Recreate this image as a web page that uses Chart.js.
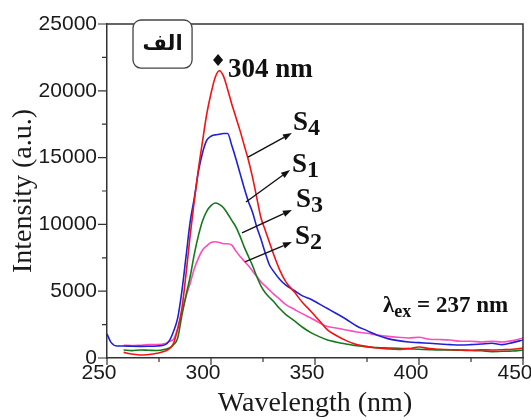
<!DOCTYPE html>
<html lang="en">
<head>
  <meta charset="UTF-8">
  <title>Emission spectra S1-S4</title>
  <script src="https://cdn.jsdelivr.net/npm/chart.js"></script>
  <style>
    html, body { margin: 0; padding: 0; background: #ffffff; }
    .chart-box { width: 531px; height: 420px; }
  </style>
</head>
<body>
  <div class="chart-box"><canvas id="spectraChart"></canvas></div>
  <script>
    // Wavelength grid (nm) and intensities (a.u.)
    const wavelength = [250, 252, 255, 258, 262, 266, 270, 274, 278, 280, 282, 284, 286, 288, 290, 292, 294, 296, 298, 300,
      302, 304, 306, 308, 310, 312, 314, 316, 318, 320, 322, 324, 326, 328, 330, 333, 336, 340, 344, 348,
      352, 356, 360, 365, 370, 375, 380, 385, 390, 395, 400, 405, 410, 415, 420, 425, 430, 435, 440, 445, 450];

    const s4 = [null, null, null, 420, 300, 220, 260, 350, 520, 700, 1100, 2200, 3700, 6300, 9200, 11800, 14200, 16300, 18300, 19800,
      21000, 21500, 21100, 20100, 19000, 18000, 17000, 15900, 14800, 13500, 12000, 10500, 9600, 8700, 7800, 6600, 5700, 4950, 4150, 3500,
      2800, 2100, 1700, 1300, 1000, 850, 750, 680, 640, 700, 820, 700, 650, 620, 600, 580, 620, 600, 620, 650, 750];

    const s1 = [1800, 1150, 900, 900, 880, 870, 880, 900, 1000, 1300, 2000, 3000, 5000, 7600, 10200, 12000, 14000, 15400, 16300, 16600,
      16700, 16750, 16800, 16800, 15900, 14900, 13800, 12700, 11700, 10900, 9800, 8900, 7900, 7000, 6500, 5900, 5450, 5050, 4650, 4400,
      4050, 3700, 3350, 2900, 2400, 2050, 1700, 1450, 1300, 1200, 1150, 1100, 1050, 1000, 970, 1000, 1050, 1100, 1000, 1150, 1350];

    const s3 = [null, null, null, 600, 550, 600, 580, 560, 650, 750, 1000, 1500, 3200, 4700, 6100, 7800, 9200, 10300, 11000, 11400,
      11600, 11500, 11250, 10800, 10300, 9800, 9100, 8300, 7600, 6900, 6100, 5400, 4900, 4550, 4250, 3700, 3250, 2800, 2300, 1900,
      1600, 1350, 1200, 1050, 920, 850, 780, 750, 720, 700, 650, 620, 600, 600, 580, 560, 540, 480, 500, 520, 600];

    const s2 = [null, null, null, 950, 930, 960, 1000, 1000, 1080, 1250, 1400, 2200, 3400, 4600, 5600, 6700, 7500, 8100, 8400, 8650,
      8700, 8650, 8550, 8550, 8450, 8000, 7600, 7250, 6900, 6500, 6100, 5700, 5400, 5100, 4800, 4400, 4000, 3650, 3300, 3000,
      2650, 2350, 2250, 2100, 1950, 1850, 1720, 1620, 1550, 1500, 1550, 1400, 1380, 1350, 1250, 1250, 1200, 1250, 1200, 1300, 1500];

    const xTickValues = [250, 300, 350, 400, 450];
    const yTickValues = [0, 5000, 10000, 15000, 20000, 25000];

    const serif = '"Liberation Serif", "Times New Roman", serif';
    const sans = '"Liberation Sans", Arial, sans-serif';
    const axisColor = '#333333';

    function drawArrow(ctx, x1, y1, x2, y2) {
      const ang = Math.atan2(y2 - y1, x2 - x1);
      const len = 9, half = 3.2;
      const bx = x2 - len * Math.cos(ang), by = y2 - len * Math.sin(ang);
      ctx.beginPath();
      ctx.moveTo(x1, y1);
      ctx.lineTo(bx, by);
      ctx.stroke();
      ctx.beginPath();
      ctx.moveTo(x2, y2);
      ctx.lineTo(bx + half * Math.sin(ang), by - half * Math.cos(ang));
      ctx.lineTo(bx - half * Math.sin(ang), by + half * Math.cos(ang));
      ctx.closePath();
      ctx.fill();
    }

    function subText(ctx, x, y, main, sub, mainSize, subSize, drop) {
      ctx.font = 'bold ' + mainSize + 'px ' + serif;
      ctx.fillText(main, x, y);
      const w = ctx.measureText(main).width;
      ctx.font = 'bold ' + subSize + 'px ' + serif;
      ctx.fillText(sub, x + w, y + drop);
      return x + w + ctx.measureText(sub).width;
    }

    const figureMarks = {
      id: 'figureMarks',
      afterDraw(chart) {
        const { ctx, chartArea: area, scales: { x, y } } = chart;
        const px = v => x.getPixelForValue(v);
        const py = v => y.getPixelForValue(v);
        ctx.save();

        // frame on top and right
        ctx.strokeStyle = axisColor;
        ctx.lineWidth = 1.5;
        ctx.beginPath();
        ctx.moveTo(area.left, area.top);
        ctx.lineTo(area.right, area.top);
        ctx.lineTo(area.right, area.bottom);
        ctx.stroke();

        // outward ticks, major and minor
        ctx.lineWidth = 1.2;
        ctx.beginPath();
        for (let i = 0; i < yTickValues.length; i++) {
          const yy = py(yTickValues[i]);
          ctx.moveTo(area.left, yy); ctx.lineTo(area.left - 9, yy);
          if (i < yTickValues.length - 1) {
            const ym = py((yTickValues[i] + yTickValues[i + 1]) / 2);
            ctx.moveTo(area.left, ym); ctx.lineTo(area.left - 5, ym);
          }
        }
        for (let i = 0; i < xTickValues.length; i++) {
          const xx = px(xTickValues[i]);
          ctx.moveTo(xx, area.bottom); ctx.lineTo(xx, area.bottom + 7);
          if (i < xTickValues.length - 1) {
            const xm = px((xTickValues[i] + xTickValues[i + 1]) / 2);
            ctx.moveTo(xm, area.bottom); ctx.lineTo(xm, area.bottom + 4);
          }
        }
        ctx.stroke();

        // panel tag box
        const bx1 = px(262.5), bx2 = px(290.9), by1 = py(25300), by2 = py(21700);
        ctx.fillStyle = '#ffffff';
        ctx.strokeStyle = '#444444';
        ctx.lineWidth = 1.3;
        ctx.beginPath();
        ctx.roundRect(bx1, by1, bx2 - bx1, by2 - by1, 8);
        ctx.fill();
        ctx.stroke();
        ctx.fillStyle = '#111111';
        ctx.font = 'bold 21px "DejaVu Sans", sans-serif';
        ctx.textAlign = 'center';
        ctx.textBaseline = 'middle';
        ctx.fillText('الف', (bx1 + bx2) / 2, (by1 + by2) / 2 + 1);

        // peak marker
        const dx = px(303.4), dy = py(22300);
        ctx.beginPath();
        ctx.moveTo(dx, dy - 6); ctx.lineTo(dx + 5, dy); ctx.lineTo(dx, dy + 6); ctx.lineTo(dx - 5, dy);
        ctx.closePath();
        ctx.fill();

        ctx.textAlign = 'left';
        ctx.textBaseline = 'alphabetic';
        ctx.font = 'bold 27px ' + serif;
        ctx.fillText('304 nm', px(308.2), py(21030));

        // sample labels and arrows
        subText(ctx, px(339.4), py(17070), 'S', '4', 27, 24, 5);
        subText(ctx, px(338.9), py(13920), 'S', '1', 27, 24, 5);
        subText(ctx, px(340.9), py(11300), 'S', '3', 27, 24, 5);
        subText(ctx, px(340.4), py(8530), 'S', '2', 27, 24, 5);

        ctx.strokeStyle = '#111111';
        ctx.lineWidth = 1.4;
        drawArrow(ctx, px(317.8), py(15040), px(338.9), py(16840));
        drawArrow(ctx, px(316.8), py(11680), px(338.0), py(14070));
        drawArrow(ctx, px(314.9), py(9360), px(338.9), py(11080));
        drawArrow(ctx, px(316.3), py(7190), px(338.9), py(8680));

        // excitation note
        const end = subText(ctx, px(382.7), py(3440), 'λ', 'ex', 23, 18, 5);
        ctx.font = 'bold 23px ' + serif;
        ctx.fillText(' = 237 nm', end, py(3440));

        ctx.restore();
      }
    };

    new Chart(document.getElementById('spectraChart'), {
      type: 'line',
      data: {
        labels: wavelength,
        datasets: [
          { label: 'S4', data: s4, borderColor: '#f01414' },
          { label: 'S1', data: s1, borderColor: '#2020d4' },
          { label: 'S3', data: s3, borderColor: '#16781c' },
          { label: 'S2', data: s2, borderColor: '#ff4cbe' }
        ].map(d => Object.assign(d, {
          borderWidth: 1.6,
          pointRadius: 0,
          fill: false,
          spanGaps: false,
          cubicInterpolationMode: 'monotone'
        }))
      },
      options: {
        responsive: true,
        maintainAspectRatio: false,
        animation: false,
        layout: { padding: { left: 0, top: 24, right: 8, bottom: 0 } },
        plugins: {
          legend: { display: false },
          tooltip: { enabled: false }
        },
        scales: {
          x: {
            type: 'linear',
            min: 250,
            max: 450,
            afterFit: scale => {
              scale.height = 62;
              scale.paddingLeft = 0;
              scale.paddingRight = 0;
            },
            afterBuildTicks: scale => { scale.ticks = xTickValues.map(v => ({ value: v })); },
            grid: { display: false, drawTicks: false },
            border: { display: true, color: axisColor, width: 1.5 },
            ticks: {
              font: { family: sans, size: 21 },
              color: '#1a1a1a',
              padding: 3,
              labelOffset: -8,
              maxRotation: 0,
              autoSkip: false
            },
            title: {
              display: true,
              text: 'Wavelength (nm)',
              font: { family: serif, size: 28 },
              color: '#1a1a1a',
              padding: { top: 0, bottom: 0 }
            }
          },
          y: {
            min: 0,
            max: 25000,
            afterFit: scale => {
              scale.width = 107;
              scale.paddingTop = 0;
              scale.paddingBottom = 0;
            },
            afterBuildTicks: scale => { scale.ticks = yTickValues.map(v => ({ value: v })); },
            grid: { display: false, drawTicks: false },
            border: { display: true, color: axisColor, width: 1.5 },
            ticks: {
              font: { family: sans, size: 21 },
              color: '#1a1a1a',
              padding: 10,
              callback: v => String(v)
            },
            title: {
              display: true,
              text: 'Intensity (a.u.)',
              font: { family: serif, size: 28 },
              color: '#1a1a1a',
              padding: { top: 7, bottom: 0 }
            }
          }
        }
      },
      plugins: [figureMarks]
    });
  </script>
</body>
</html>
